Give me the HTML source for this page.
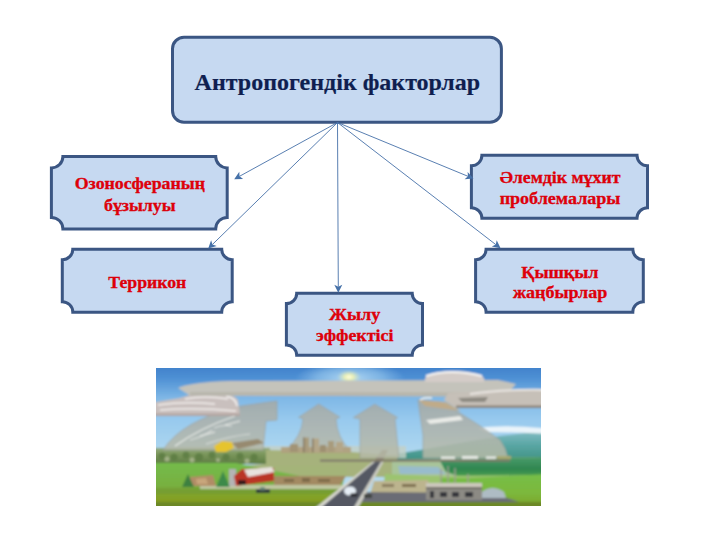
<!DOCTYPE html>
<html><head><meta charset="utf-8"><style>
html,body{margin:0;padding:0;background:#fff;}
body{width:720px;height:540px;overflow:hidden;position:relative;}
svg{position:absolute;left:0;top:0;}
.t{font-family:"Liberation Serif",serif;font-weight:bold;font-size:24px;fill:#0F1F50;stroke:#0F1F50;stroke-width:0.2px;text-anchor:middle;}
.s{font-family:"Liberation Serif",serif;font-weight:bold;font-size:16.0px;fill:#E0000A;stroke:#D8000A;stroke-width:0.3px;}
</style></head><body>
<svg width="720" height="540" viewBox="0 0 720 540">
<rect x="172.5" y="37.2" width="328.9" height="85.0" rx="11.5" ry="11.5" fill="#C6D9F1" stroke="#3B5683" stroke-width="3"/>
<path d="M62.9,156.4 L215.7,156.4 A11.5,11.5 0 0 0 227.2,167.9 L227.2,217.4 A11.5,11.5 0 0 0 215.7,228.9 L62.9,228.9 A11.5,11.5 0 0 0 51.4,217.4 L51.4,167.9 A11.5,11.5 0 0 0 62.9,156.4 Z" fill="#C6D9F1" stroke="#3B5683" stroke-width="3"/>
<path d="M72.8,249.2 L221.7,249.2 A10.5,10.5 0 0 0 232.2,259.7 L232.2,301.7 A10.5,10.5 0 0 0 221.7,312.2 L72.8,312.2 A10.5,10.5 0 0 0 62.3,301.7 L62.3,259.7 A10.5,10.5 0 0 0 72.8,249.2 Z" fill="#C6D9F1" stroke="#3B5683" stroke-width="3"/>
<path d="M481.9,155.3 L637.0,155.3 A10.5,10.5 0 0 0 647.5,165.8 L647.5,207.8 A10.5,10.5 0 0 0 637.0,218.3 L481.9,218.3 A10.5,10.5 0 0 0 471.4,207.8 L471.4,165.8 A10.5,10.5 0 0 0 481.9,155.3 Z" fill="#C6D9F1" stroke="#3B5683" stroke-width="3"/>
<path d="M486.1,249.2 L632.8,249.2 A10.5,10.5 0 0 0 643.3,259.7 L643.3,301.7 A10.5,10.5 0 0 0 632.8,312.2 L486.1,312.2 A10.5,10.5 0 0 0 475.6,301.7 L475.6,259.7 A10.5,10.5 0 0 0 486.1,249.2 Z" fill="#C6D9F1" stroke="#3B5683" stroke-width="3"/>
<path d="M296.7,293.3 L412.2,293.3 A10.3,10.3 0 0 0 422.5,303.6 L422.5,345.0 A10.3,10.3 0 0 0 412.2,355.3 L296.7,355.3 A10.3,10.3 0 0 0 286.4,345.0 L286.4,303.6 A10.3,10.3 0 0 0 296.7,293.3 Z" fill="#C6D9F1" stroke="#3B5683" stroke-width="3"/>
<line x1="337.5" y1="122.5" x2="239.5" y2="176.3" stroke="#4671A8" stroke-width="0.9"/>
<path d="M234.2,179.2 L239.3,171.8 L239.5,176.3 L243.1,178.9 Z" fill="#4671A8"/>
<line x1="337.5" y1="122.5" x2="212.5" y2="244.4" stroke="#4671A8" stroke-width="0.9"/>
<path d="M208.2,248.6 L211.1,240.2 L212.5,244.4 L216.7,245.9 Z" fill="#4671A8"/>
<line x1="337.5" y1="122.5" x2="468.0" y2="176.3" stroke="#4671A8" stroke-width="0.9"/>
<path d="M473.5,178.6 L464.6,179.2 L468.0,176.3 L467.6,171.9 Z" fill="#4671A8"/>
<line x1="337.5" y1="122.5" x2="495.8" y2="244.6" stroke="#4671A8" stroke-width="0.9"/>
<path d="M500.6,248.3 L491.8,246.6 L495.8,244.6 L496.7,240.2 Z" fill="#4671A8"/>
<line x1="337.5" y1="122.5" x2="338.3" y2="286.8" stroke="#4671A8" stroke-width="0.9"/>
<path d="M338.3,292.8 L334.3,284.8 L338.3,286.8 L342.3,284.8 Z" fill="#4671A8"/>
<text x="337.4" y="89.6" class="t">Антропогендік факторлар</text>
<text x="74.75" y="189" class="s" textLength="130.20" lengthAdjust="spacingAndGlyphs">Озоносфераның</text>
<text x="104.00" y="210.6" class="s" textLength="71.50" lengthAdjust="spacingAndGlyphs">бұзылуы</text>
<text x="108.30" y="287.6" class="s" textLength="78.00" lengthAdjust="spacingAndGlyphs">Террикон</text>
<text x="499.70" y="182.9" class="s" textLength="120.70" lengthAdjust="spacingAndGlyphs">Әлемдік мұхит</text>
<text x="499.70" y="204" class="s" textLength="120.70" lengthAdjust="spacingAndGlyphs">проблемалары</text>
<text x="521.30" y="278" class="s" textLength="77.20" lengthAdjust="spacingAndGlyphs">Қышқыл</text>
<text x="513.00" y="298.3" class="s" textLength="94.20" lengthAdjust="spacingAndGlyphs">жаңбырлар</text>
<text x="329.00" y="320.4" class="s" textLength="51.30" lengthAdjust="spacingAndGlyphs">Жылу</text>
<text x="316.00" y="341.3" class="s" textLength="77.40" lengthAdjust="spacingAndGlyphs">эффектісі</text>
<defs>
<clipPath id="ic"><rect x="156" y="368" width="385" height="138"/></clipPath>
<linearGradient id="sky" x1="0" y1="368" x2="0" y2="460" gradientUnits="userSpaceOnUse">
<stop offset="0" stop-color="#4283CC"/><stop offset="0.11" stop-color="#4E90D4"/><stop offset="0.33" stop-color="#80B8E6"/><stop offset="0.57" stop-color="#98CAEE"/><stop offset="1" stop-color="#B4DAF0"/>
</linearGradient>
<radialGradient id="sun" cx="0.5" cy="0.5" r="0.5">
<stop offset="0" stop-color="#FFFFE8"/><stop offset="0.35" stop-color="#F0F2B0" stop-opacity="0.95"/><stop offset="1" stop-color="#C8E0C8" stop-opacity="0"/>
</radialGradient>
<radialGradient id="glow" cx="0.5" cy="0.5" r="0.5">
<stop offset="0" stop-color="#B8DCF4" stop-opacity="0.95"/><stop offset="0.6" stop-color="#9ACAEE" stop-opacity="0.6"/><stop offset="1" stop-color="#8EC0EC" stop-opacity="0"/>
</radialGradient>
<linearGradient id="fieldL" x1="0" y1="462" x2="0" y2="506" gradientUnits="userSpaceOnUse">
<stop offset="0" stop-color="#74BC4C"/><stop offset="0.55" stop-color="#78B040"/><stop offset="0.75" stop-color="#82A42A"/><stop offset="1" stop-color="#86981C"/>
</linearGradient>
<linearGradient id="fieldR" x1="0" y1="474" x2="0" y2="506" gradientUnits="userSpaceOnUse">
<stop offset="0" stop-color="#76BE48"/><stop offset="0.6" stop-color="#7CB83C"/><stop offset="1" stop-color="#7AA42A"/>
</linearGradient>
<linearGradient id="mtn" x1="0" y1="428" x2="0" y2="462" gradientUnits="userSpaceOnUse">
<stop offset="0" stop-color="#8CC2CC"/><stop offset="0.5" stop-color="#5AA6A4"/><stop offset="1" stop-color="#3C9080"/>
</linearGradient>
<linearGradient id="hills" x1="0" y1="458" x2="0" y2="480" gradientUnits="userSpaceOnUse">
<stop offset="0" stop-color="#4A9A6A"/><stop offset="0.5" stop-color="#2E8650"/><stop offset="1" stop-color="#5AAA50"/>
</linearGradient>
<linearGradient id="arrowg" x1="0" y1="400" x2="0" y2="460" gradientUnits="userSpaceOnUse">
<stop offset="0" stop-color="#A6AAA6"/><stop offset="0.5" stop-color="#B0B4AC"/><stop offset="1" stop-color="#B8BCA8"/>
</linearGradient>
<filter id="bl" x="-5%" y="-5%" width="110%" height="110%"><feGaussianBlur stdDeviation="0.85"/></filter>
</defs>
<g clip-path="url(#ic)"><g filter="url(#bl)">
<rect x="150" y="362" width="400" height="150" fill="url(#sky)"/>
<ellipse cx="350" cy="378" rx="55" ry="16" fill="url(#glow)"/>
<ellipse cx="349" cy="377" rx="12" ry="7" fill="url(#sun)"/>
<!-- mountains right -->
<path d="M390,455 L420,450 L460,443 L500,436 L550,430 L550,465 L390,465 Z" fill="url(#mtn)"/>
<!-- white streak -->
<path d="M478,428 Q505,424 550,429 L550,434 Q508,432 486,432 Z" fill="#EEF6FA" opacity="0.95"/>
<!-- horizon haze -->
<rect x="236" y="446" width="170" height="12" fill="#C4D0C4" opacity="0.8"/>
<!-- treeline left -->
<linearGradient id="tree" x1="0" y1="447" x2="0" y2="464" gradientUnits="userSpaceOnUse"><stop offset="0" stop-color="#9AAE88"/><stop offset="0.4" stop-color="#7C985C"/><stop offset="1" stop-color="#5E7C44"/></linearGradient>
<path d="M150,448 L220,447 L270,448 L270,464 L150,464 Z" fill="url(#tree)"/>
<g fill="#5C7C42" opacity="0.8">
<circle cx="162" cy="456" r="3.5"/><circle cx="174" cy="457" r="3.5"/><circle cx="186" cy="455" r="3.5"/><circle cx="199" cy="457" r="4"/><circle cx="212" cy="455" r="3.5"/><circle cx="226" cy="457" r="3.5"/><circle cx="240" cy="456" r="3.5"/><circle cx="254" cy="457" r="3.5"/>
</g>
<g fill="#B0BC94" opacity="0.8"><circle cx="167" cy="459" r="2.5"/><circle cx="192" cy="460" r="2.5"/><circle cx="218" cy="460" r="2"/><circle cx="247" cy="461" r="2.5"/></g>
<!-- hazy middle field -->
<path d="M266,450 L352,452 L398,456 L392,477 L300,477 L236,466 L266,464 Z" fill="#A6B27C"/>
<rect x="236" y="466" width="110" height="10" fill="#A4B478" opacity="0.8"/>
<!-- dark green hills right -->
<path d="M392,460 L440,459 L550,457 L550,480 L392,480 Z" fill="#A8C49A"/>
<path d="M440,461 Q470,458 550,457 L550,480 L470,480 L446,472 Z" fill="url(#hills)"/>
<!-- water -->
<path d="M398,466 L438,467 L446,474 L400,474 Z" fill="#98BCCC"/>
<!-- left green field -->
<path d="M150,463 L236,463 L300,476 L345,476 L335,512 L150,512 Z" fill="url(#fieldL)"/>
<path d="M150,488 L345,486 L340,494 L150,494 Z" fill="#6E9430" opacity="0.5"/>
<!-- bright green right field -->
<path d="M385,474 L430,476 L550,475 L550,512 L380,512 Z" fill="#9CC470"/>
<path d="M440,478 L470,478 L550,474 L550,512 L440,512 Z" fill="url(#fieldR)"/>
<!-- dirt area -->
<path d="M374,481 L428,480 L432,494 L370,494 Z" fill="#BCB48E"/>
<rect x="382" y="484" width="12" height="3" fill="#8A7E5E"/>
<rect x="402" y="484" width="14" height="3" fill="#7E7050"/>
<!-- bottom gray strip -->
<path d="M362,492 L492,493 L522,503 L352,504 Z" fill="#6A6C74"/>
<!-- factory -->
<rect x="426" y="483" width="56" height="17" fill="#8C8A84"/>
<rect x="426" y="483" width="56" height="4" fill="#CCC8BC"/>
<rect x="426" y="487" width="56" height="2" fill="#6E6A64"/>
<g fill="#34343A"><rect x="430" y="491" width="4" height="7"/><rect x="440" y="492" width="7" height="5"/><rect x="452" y="492" width="7" height="5"/><rect x="465" y="492" width="8" height="5"/></g>
<g stroke="#A09C94" stroke-width="1.4"><line x1="441" y1="469" x2="441" y2="483"/><line x1="448" y1="466" x2="448" y2="483"/><line x1="455" y1="468" x2="455" y2="483"/><line x1="468" y1="474" x2="468" y2="483"/></g>
<path d="M482,492 Q492,484 504,492 L506,498 L482,498 Z" fill="#AEBCC4"/>
<!-- bottom olive strip -->
<rect x="150" y="502" width="400" height="10" fill="#6C8828"/>
<!-- brown strip field -->
<path d="M274,476 L346,476 L340,485 L274,485 Z" fill="#A38A62"/>
<g fill="#7E6A48"><rect x="284" y="479" width="10" height="3"/><rect x="302" y="478" width="8" height="4"/><rect x="318" y="479" width="12" height="3"/></g>
<path d="M200,485 L346,485 L343,489 L200,489 Z" fill="#CCCCB4" opacity="0.85"/>
<!-- road -->
<path d="M375,460 L383,460 L353.7,512 L313.3,512 Z" fill="#555963"/>
<path d="M375,460 L377,460 L316,512 L310,512 Z" fill="#D8D8D0"/>
<path d="M382,460 L384.5,460 L356,512 L351,512 Z" fill="#CCCCC4"/>
<path d="M382,450 L388,450 L383,460 L375,460 Z" fill="#8A7A68"/>
<!-- car -->
<ellipse cx="350" cy="491" rx="6" ry="4.5" fill="#E6EEF6"/>
<ellipse cx="354" cy="495" rx="4" ry="2" fill="#303238"/>
<rect x="364" y="494" width="8" height="4" fill="#404440"/>
<!-- houses / rocks left of barn -->
<path d="M190,477 L213,475 L216,486 L190,486 Z" fill="#B08C66"/>
<path d="M196,479 L206,478 L208,484 L197,484 Z" fill="#C8A67C"/>
<path d="M182,487 L188,474 L194,487 Z" fill="#3E8040"/>
<path d="M216,487 L223,471 L230,487 Z" fill="#3E8A4A"/>
<!-- barn -->
<rect x="229" y="469" width="7" height="17" fill="#B4B4B4"/>
<path d="M234,476 L242,469 L274,468 L274,481 L236,486 Z" fill="#BA3428"/>
<path d="M244,469.5 L272,467 L274.5,472 L248,477 Z" fill="#E8E2DE"/>
<rect x="238" y="480" width="8" height="5" fill="#3A1E1E"/>
<!-- tractor -->
<rect x="256" y="489" width="14" height="4" fill="#2E3E3A"/>
<rect x="260" y="487" width="5" height="3" fill="#6A8A7A"/>
<!-- translucent arrows -->
<g fill="url(#arrowg)" opacity="0.85" stroke="#9A9E98" stroke-width="0.8">
<path d="M163,450 Q182,420 241,406 L277,401 L277,420 L266,421 L263,450 Z"/>
<path d="M318.7,404 L340,417.3 L336,418.7 Q337,438 350,450 L286,450 Q302,436 303,418.7 L298.7,417.3 Z"/>
<path d="M374.8,404.2 L397.6,417.6 L395,419 L399,458 L360,458 L360,419 L353.4,417.6 Z"/>
<path d="M418,400 L440,402 L455,410 Q480,425 500,440 Q506,448 508,458 L423,458 L423,435 Q420,415 418,400 Z"/>
</g>
<g stroke="#EEF0EC" stroke-width="1.2" fill="none" opacity="0.9">
<path d="M175,446 Q200,428 235,416"/><path d="M200,436 L215,432 M225,425 L240,421"/><path d="M190,440 Q205,436 212,430 M214,428 Q222,424 232,426 M206,444 Q230,436 250,434" opacity="0.7"/>
</g>
<path d="M419,400 L446,402 L461,411 L425,406 Z" fill="#C6AA82" opacity="0.85"/>
<path d="M426,420 L460,416 L463,420 L430,424 Z" fill="#F4F4F0" opacity="0.85"/>
<!-- city -->
<g opacity="0.9">
<rect x="281" y="447" width="70" height="6" fill="#B0A07E"/>
<rect x="303" y="437.5" width="6" height="15" fill="#A89878"/>
<rect x="303" y="437.5" width="1.5" height="15" fill="#7E705A"/>
<rect x="312" y="438.5" width="7" height="14" fill="#B4A484"/>
<rect x="312" y="438.5" width="1.5" height="14" fill="#7E705A"/>
<rect x="328" y="441" width="6" height="11" fill="#A89878"/>
<rect x="336" y="442" width="7" height="10" fill="#B4A484"/>
<rect x="290" y="444" width="8" height="8" fill="#A09070"/>
<rect x="320" y="445" width="6" height="7" fill="#9C8C6C"/>
</g>
<!-- fire -->
<path d="M214,446 L222,441 L232,442 L234,448 L226,452 L216,452 Z" fill="#E6C42E"/>
<path d="M232,443 L258,439 L264,443 L238,449 Z" fill="#8E7A5A" opacity="0.75"/>

<!-- left cloud band -->
<path d="M150,403 Q168,400 180,398 Q192,394 204,392 Q218,393 228,395 Q236,396 238,400 L240,416 L150,416 Z" fill="#CCC0BC" opacity="0.95"/>
<path d="M158,405 Q185,401 215,404 M160,410 Q195,407 236,411 M185,399 Q205,395 228,399" stroke="#F2EEEC" stroke-width="1.4" fill="none"/>
<path d="M226,396 Q236,398 237,406" stroke="#F8F6F6" stroke-width="1.5" fill="none"/>
<path d="M150,413.5 L240,413.5 L240,416 L150,416 Z" fill="#B4A6A2"/>
<!-- top gray band -->
<path d="M178,388 Q192,382 230,381 L498,380 L516,384 L505,396.5 L190,395.5 Z" fill="#C4C3BB"/>
<path d="M190,392 L505,392.5 L505,396.5 L190,395.5 Z" fill="#B8B6AC"/>
<!-- cloud top right -->
<path d="M425,382 Q423,374 440,372 Q460,369 478,374 Q486,377 484,382 Z" fill="#D4CCC8"/>
<path d="M426,376 Q450,368 482,376" stroke="#F8F6F4" stroke-width="2" fill="none"/>
<!-- right lower band -->
<path d="M448,393 L500,390 L550,390 L550,408 L456,408 L444,400 Z" fill="#C6C0B8"/>
<rect x="456" y="405.5" width="94" height="2.5" fill="#8C8478"/>
<path d="M470,394 Q500,389 550,390" stroke="#EAE6E2" stroke-width="2" fill="none"/>
<path d="M420,400 Q424,397 432,398" stroke="#F4F4F2" stroke-width="1.5" fill="none"/>
<path d="M458,398 L488,397 L485,402 L462,402 Z" fill="#8E8A82"/>
<!-- bridge line -->
<rect x="320" y="459.5" width="190" height="2.2" fill="#807A6A"/>
<g fill="#ECEEEA" opacity="0.9"><rect x="441" y="456.5" width="14" height="2.5"/><rect x="462" y="456" width="16" height="3"/><rect x="486" y="456.5" width="10" height="2.5"/></g>
<rect x="497" y="456" width="14" height="3" fill="#A8A870"/>
</g></g>

</svg>
</body></html>
